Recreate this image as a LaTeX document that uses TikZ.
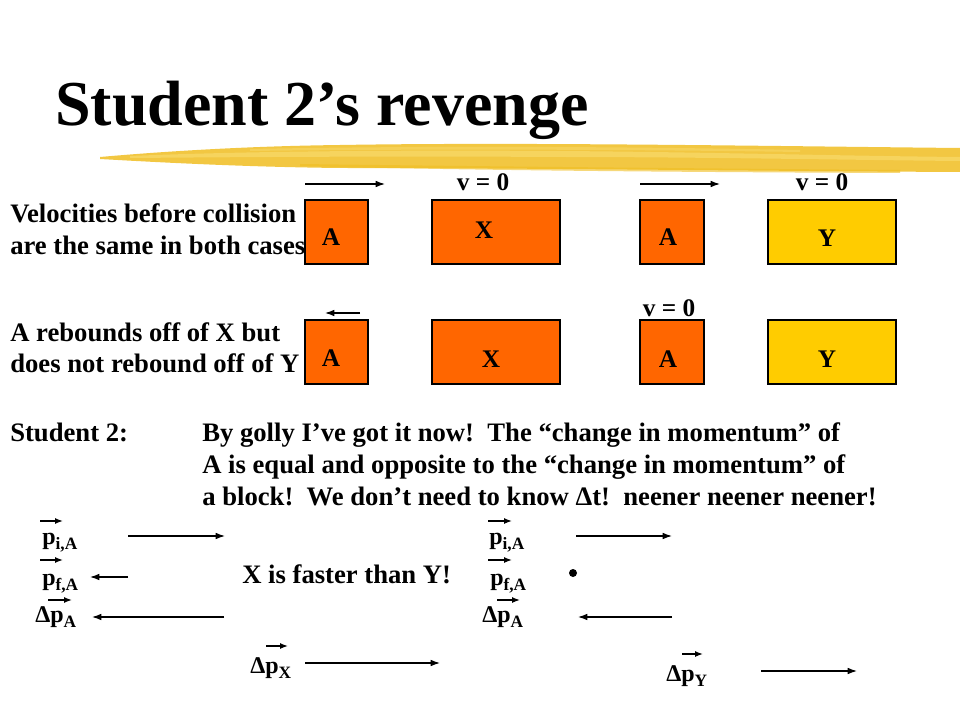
\documentclass[tikz,border=0pt]{standalone}
\usepackage{fontspec}
\setmainfont{Liberation Serif}
\usetikzlibrary{arrows.meta}
\definecolor{blkorange}{HTML}{FF6600}
\definecolor{blkyellow}{HTML}{FFCC00}
\definecolor{brush}{HTML}{F0BE22}
\definecolor{brushlight}{HTML}{F8DA6A}
\newcommand{\subsc}[1]{\raisebox{-0.24em}{\fontsize{13}{13}\selectfont #1}}
\tikzset{
  txt/.style={anchor=base west,inner sep=0pt,font=\fontsize{20}{24}\selectfont\bfseries},
  vtxt/.style={anchor=base west,inner sep=0pt,font=\fontsize{18}{22}\selectfont\bfseries},
  blocklbl/.style={anchor=base,inner sep=0pt,font=\fontsize{19}{22}\selectfont\bfseries},
  block/.style={draw=black,line width=0.8pt},
  varr/.style={-{Latex[length=7pt,width=5pt]},line width=0.9pt},
  vecarr/.style={-{Latex[length=6pt,width=4.5pt]},line width=1pt},
}
\begin{document}
\begin{tikzpicture}[x=0.75pt,y=-0.75pt]
\fill[white] (0,0) rectangle (960,720);
\useasboundingbox (0,0) rectangle (960,720);
% title
\node[anchor=base west,inner sep=0pt,font=\fontsize{48}{56}\selectfont\bfseries] (title) at (55,126) {Student 2’s revenge};
% brush stroke
\fill[brush,opacity=0.85] (100,157) .. controls (180,150) and (260,146) .. (340,145)
  .. controls (520,142) and (760,146) .. (960,148) -- (960,172)
  .. controls (760,171) and (520,168) .. (340,168) .. controls (250,167) and (170,163) .. (100,159) -- cycle;
\fill[brushlight,opacity=0.7] (130,156) .. controls (250,151) and (400,150) .. (560,151)
  .. controls (700,152) and (850,156) .. (960,157) -- (960,161)
  .. controls (850,160) and (700,157) .. (560,157) .. controls (400,156) and (250,157) .. (130,158) -- cycle;
\fill[brushlight,opacity=0.5] (250,149) .. controls (400,146) and (600,146) .. (800,150) -- (800,152)
  .. controls (600,149) and (400,149) .. (250,151) -- cycle;
\fill[brush,opacity=0.6] (300,164) .. controls (450,166) and (650,168) .. (900,170) -- (900,173)
  .. controls (650,172) and (450,170) .. (300,166) -- cycle;
% left texts
\node[txt] (t1) at (10,223) {Velocities before collision};
\node[txt] (t2) at (10,255) {are the same in both cases};
\node[txt] (t3) at (10,341) {A rebounds off of X but};
\node[txt] (t4) at (10,372) {does not rebound off of Y};
% row 1 blocks
\draw[block,fill=blkorange] (305,200) rectangle (368,264);
\draw[block,fill=blkorange] (432,200) rectangle (560,264);
\draw[block,fill=blkorange] (640,200) rectangle (704,264);
\draw[block,fill=blkyellow] (768,200) rectangle (896,264);
\node[blocklbl] (a1) at (331,246) {A};
\node[blocklbl] (x1) at (484,239) {X};
\node[blocklbl] (a2) at (668,246) {A};
\node[blocklbl] (y1) at (827,247) {Y};
% row 1 velocities
\coordinate (r1s) at (305,184); \coordinate (r1e) at (385,184);
\draw[varr] (r1s) -- (r1e);
\coordinate (r1s2) at (640,184); \coordinate (r1e2) at (720,184);
\draw[varr] (r1s2) -- (r1e2);
\node[blocklbl] (v1) at (483,191) {v = 0};
\node[blocklbl] (v2) at (822,191) {v = 0};
% row 2 blocks
\draw[block,fill=blkorange] (305,320) rectangle (368,384);
\draw[block,fill=blkorange] (432,320) rectangle (560,384);
\draw[block,fill=blkorange] (640,320) rectangle (704,384);
\draw[block,fill=blkyellow] (768,320) rectangle (896,384);
\node[blocklbl] (a3) at (331,366) {A};
\node[blocklbl] (x2) at (491,367) {X};
\node[blocklbl] (a4) at (668,367) {A};
\node[blocklbl] (y2) at (827,367) {Y};
\coordinate (r2s) at (360,313); \coordinate (r2e) at (325,313);
\draw[varr] (r2s) -- (r2e);
\node[blocklbl] (v3) at (669,316) {v = 0};
% student 2 paragraph
\node[txt] (s2) at (10,441) {Student 2:};
\node[txt] (p1) at (202,441) {By golly I’ve got it now!\ \ The “change in momentum” of};
\node[txt] (p2) at (202,473) {A is equal and opposite to the “change in momentum” of};
\node[txt] (p3) at (202,505) {a block!\ \ We don’t need to know Δt!\ \ neener neener neener!};
% bottom left vectors
\node[vtxt] (pia) at (42,544) {p\subsc{i,A}};
\draw[vecarr] (40,521) -- (63,521);
\coordinate (pias) at (128,536); \coordinate (piae) at (225,536);
\draw[varr] (pias) -- (piae);
\node[vtxt] (pfa) at (42,585) {p\subsc{f,A}};
\draw[vecarr] (40,560) -- (63,560);
\coordinate (pfas) at (128,577); \coordinate (pfae) at (90,577);
\draw[varr] (pfas) -- (pfae);
\node[vtxt] (dpa) at (35,622) {Δp\subsc{A}};
\draw[vecarr] (48,600) -- (72,600);
\coordinate (dpas) at (224,617); \coordinate (dpae) at (92,617);
\draw[varr] (dpas) -- (dpae);
\node[txt] (fast) at (242,583) {X is faster than Y!};
\node[vtxt] (dpx) at (250,673) {Δp\subsc{X}};
\draw[vecarr] (266,646) -- (288,646);
\coordinate (dpxs) at (305,663); \coordinate (dpxe) at (440,663);
\draw[varr] (dpxs) -- (dpxe);
% bottom right vectors
\node[vtxt] (pia2) at (489,544) {p\subsc{i,A}};
\draw[vecarr] (488,521) -- (512,521);
\coordinate (pia2s) at (576,536); \coordinate (pia2e) at (672,536);
\draw[varr] (pia2s) -- (pia2e);
\node[vtxt] (pfa2) at (490,585) {p\subsc{f,A}};
\draw[vecarr] (488,560) -- (512,560);
\fill (573,573) circle (4);
\node[vtxt] (dpa2) at (482,622) {Δp\subsc{A}};
\draw[vecarr] (497,600) -- (520,600);
\coordinate (dpa2s) at (672,617); \coordinate (dpa2e) at (578,617);
\draw[varr] (dpa2s) -- (dpa2e);
\node[vtxt] (dpy) at (666,681) {Δp\subsc{Y}};
\draw[vecarr] (682,654) -- (703,654);
\coordinate (dpys) at (761,671); \coordinate (dpye) at (857,671);
\draw[varr] (dpys) -- (dpye);
\end{tikzpicture}
\end{document}
